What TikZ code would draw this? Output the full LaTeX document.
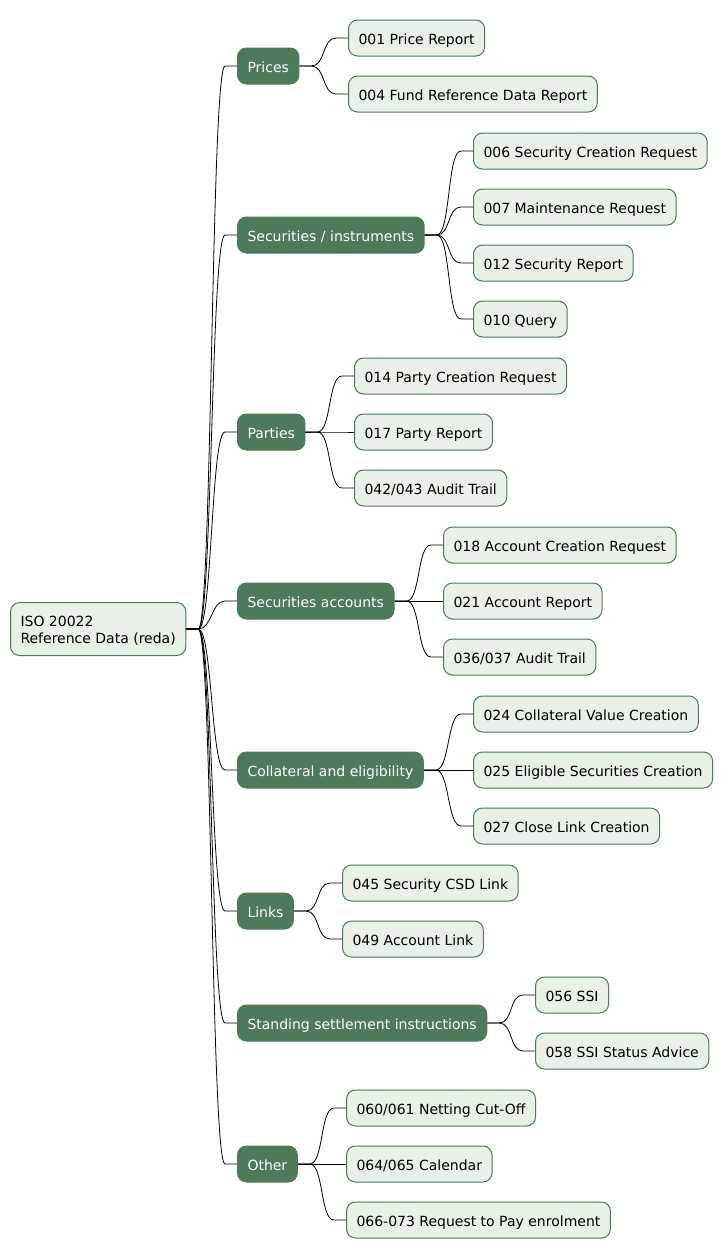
\documentclass[tikz,border=0pt]{standalone}
\usepackage{fontspec}
\setmainfont{DejaVu Sans}
\usetikzlibrary{calc}

\definecolor{leafgreen}{HTML}{E8F0E7}
\definecolor{leafedge}{HTML}{4A7A56}
\definecolor{topicgreen}{HTML}{4D7A59}

\begin{document}
\begin{tikzpicture}[x=1pt,y=-1pt,
    box/.style={rounded corners=9pt,line width=1pt,anchor=west,inner xsep=10pt,inner ysep=0pt,
      minimum height=36pt,text height=12.5pt,text depth=0pt,font=\fontsize{14pt}{16.3pt}\selectfont},
    leaf/.style={box,draw=leafedge,fill=leafgreen,text=black},
    topic/.style={box,draw=topicgreen,fill=topicgreen,text=white},
    link/.style={draw=black,line width=0.8pt}]
    \useasboundingbox (0,0) rectangle (722,1259);
    \pgfmathsetmacro{\topicx}{237}
    \providecommand{\branch}[2]{%
      \draw[link] (#1.east) -- ($(#1.east)+(12,0)$)
        .. controls ($(#1.east)+(26,0)$) and ($(#2.west)+(-26,0)$) .. ($(#2.west)+(-12,0)$)
        -- (#2.west);}
    % root
    \node[leaf,minimum height=53pt,text height=,text depth=,align=left] (root) at (10,629)
      {\rule{0pt}{14pt}ISO 20022\\Reference Data (reda)};
    % topics
    \node[topic] (prices) at (\topicx,66) {Prices};
    \node[topic] (secinst) at (\topicx,235) {Securities / instruments};
    \node[topic] (parties) at (\topicx,432) {Parties};
    \node[topic] (secacc) at (\topicx,601) {Securities accounts};
    \node[topic] (collat) at (\topicx,770) {Collateral and eligibility};
    \node[topic] (links) at (\topicx,911) {Links};
    \node[topic] (ssi) at (\topicx,1023) {Standing settlement instructions};
    \node[topic] (other) at (\topicx,1164) {Other};
    % messages
    \node[leaf] (pr1) at (348,38) {001 Price Report};
    \node[leaf] (pr2) at (348,94) {004 Fund Reference Data Report};
    \node[leaf] (si1) at (473,151) {006 Security Creation Request};
    \node[leaf] (si2) at (473,207) {007 Maintenance Request};
    \node[leaf] (si3) at (473,263) {012 Security Report};
    \node[leaf] (si4) at (473,319) {010 Query};
    \node[leaf] (pa1) at (354,376) {014 Party Creation Request};
    \node[leaf] (pa2) at (354,432) {017 Party Report};
    \node[leaf] (pa3) at (354,488) {042/043 Audit Trail};
    \node[leaf] (ac1) at (443,545) {018 Account Creation Request};
    \node[leaf] (ac2) at (443,601) {021 Account Report};
    \node[leaf] (ac3) at (443,657) {036/037 Audit Trail};
    \node[leaf] (co1) at (473,714) {024 Collateral Value Creation};
    \node[leaf] (co2) at (473,770) {025 Eligible Securities Creation};
    \node[leaf] (co3) at (473,826) {027 Close Link Creation};
    \node[leaf] (li1) at (342,883) {045 Security CSD Link};
    \node[leaf] (li2) at (342,939) {049 Account Link};
    \node[leaf] (ss1) at (535,995) {056 SSI};
    \node[leaf] (ss2) at (535,1051) {058 SSI Status Advice};
    \node[leaf] (ot1) at (346,1108) {060/061 Netting Cut-Off};
    \node[leaf] (ot2) at (346,1164) {064/065 Calendar};
    \node[leaf] (ot3) at (346,1220) {066-073 Request to Pay enrolment};
    % connectors
    \branch{root}{prices}
    \branch{root}{secinst}
    \branch{root}{parties}
    \branch{root}{secacc}
    \branch{root}{collat}
    \branch{root}{links}
    \branch{root}{ssi}
    \branch{root}{other}
    \branch{prices}{pr1}
    \branch{prices}{pr2}
    \branch{secinst}{si1}
    \branch{secinst}{si2}
    \branch{secinst}{si3}
    \branch{secinst}{si4}
    \branch{parties}{pa1}
    \branch{parties}{pa2}
    \branch{parties}{pa3}
    \branch{secacc}{ac1}
    \branch{secacc}{ac2}
    \branch{secacc}{ac3}
    \branch{collat}{co1}
    \branch{collat}{co2}
    \branch{collat}{co3}
    \branch{links}{li1}
    \branch{links}{li2}
    \branch{ssi}{ss1}
    \branch{ssi}{ss2}
    \branch{other}{ot1}
    \branch{other}{ot2}
    \branch{other}{ot3}
\end{tikzpicture}
\end{document}
